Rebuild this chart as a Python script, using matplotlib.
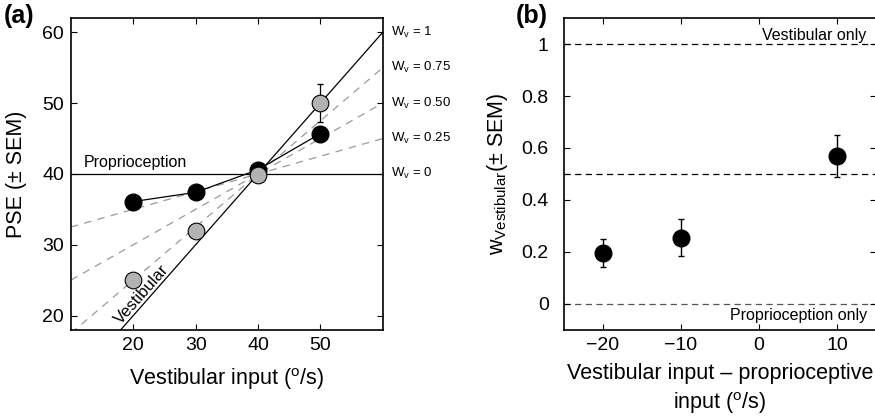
import matplotlib
matplotlib.use('Agg')
import matplotlib.pyplot as plt
import numpy as np

plt.rcParams['font.family'] = ['Liberation Sans', 'DejaVu Sans']
plt.rcParams['mathtext.fontset'] = 'custom'
plt.rcParams['mathtext.rm'] = 'Liberation Sans'
plt.rcParams['mathtext.it'] = 'Liberation Sans'

# ---- panel (a) data ----
vest_input = [20, 30, 40, 50]
pse_black = [36.1, 37.4, 40.6, 45.7]
pse_gray = [25.0, 31.9, 39.8, 50.0]
err_gray = [0.0, 0.0, 0.0, 2.7]
weights = [1, 0.75, 0.5, 0.25, 0]
weight_labels = ['1', '0.75', '0.50', '0.25', '0']

# ---- panel (b) data ----
diff_input = [-20, -10, 10]
w_vest = [0.195, 0.255, 0.57]
w_err = [0.053, 0.071, 0.08]
ref_levels = [0, 0.5, 1]

fig = plt.figure(figsize=(8.75, 4.17), dpi=100)

# ================= (a) =================
ax = fig.add_axes([0.0811, 0.2094, 0.3563, 0.747])
xs = np.array([10, 60])
for w in weights:
    ys = 40 + w * (xs - 40)
    if w in (0, 1):
        ax.plot(xs, ys, color='black', lw=0.9, zorder=2)
    else:
        ax.plot(xs, ys, color='#9a9a9a', lw=0.9, ls=(0, (6, 5)), zorder=1)

ax.plot(vest_input, pse_black, color='black', lw=0.9, zorder=3)
ax.plot(vest_input, pse_black, 'o', ms=12, mfc='black', mec='black', zorder=4)
ax.errorbar(vest_input[3:], pse_gray[3:], yerr=err_gray[3:], fmt='none',
            ecolor='black', elinewidth=0.9, capsize=2.5, zorder=4)
ax.plot(vest_input, pse_gray, 'o', ms=12, mfc='#b2b2b2', mec='black',
        mew=0.8, zorder=5)

ax.set_xlim(10, 60)
ax.set_ylim(18, 62)
ax.set_xticks([20, 30, 40, 50])
ax.set_yticks([20, 30, 40, 50, 60])
ax.tick_params(direction='in', top=True, right=True, length=4, width=0.8,
               labelsize=14)
ax.tick_params(axis='y', pad=5)
ax.tick_params(axis='x', pad=5)
for s in ax.spines.values():
    s.set_linewidth(1.2)
ax.set_xlabel('Vestibular input ($^{\\mathregular{o}}$/s)', fontsize=15.5,
              labelpad=9)
ax.set_ylabel('PSE (\u00b1 SEM)', fontsize=15.5, labelpad=11)

for w, lab in zip(weights, weight_labels):
    ax.text(61.3, 40 + w * 20, 'W$_\\mathregular{v}$ = ' + lab, fontsize=9.5,
            va='center', ha='left')
ax.text(12.0, 40.6, 'Proprioception', fontsize=11.5, va='bottom', ha='left')
ax.text(21.4, 23.0, 'Vestibular', fontsize=12, rotation=48.6,
        rotation_mode='anchor', ha='center', va='center')
fig.text(0.004, 0.962, '(a)', fontsize=18, fontweight='bold', va='center')

# ================= (b) =================
bx = fig.add_axes([0.6446, 0.2094, 0.3566, 0.747])
for lv in ref_levels:
    bx.axhline(lv, color='black' if lv else '#555555', lw=0.9,
               ls=(0, (5, 3.5)), zorder=1)
bx.errorbar(diff_input, w_vest, yerr=w_err, fmt='o', ms=12, mfc='black',
            mec='black', ecolor='black', elinewidth=1.0, capsize=2.5, zorder=3)
bx.set_xlim(-25, 15)
bx.set_ylim(-0.1, 1.1)
bx.set_xticks([-20, -10, 0, 10])
bx.set_xticklabels(['\u221220', '\u221210', '0', '10'])
bx.set_yticks([0, 0.2, 0.4, 0.6, 0.8, 1])
bx.set_yticklabels(['0', '0.2', '0.4', '0.6', '0.8', '1'])
bx.tick_params(direction='in', top=True, right=True, length=4, width=0.8,
               labelsize=14)
bx.tick_params(axis='y', pad=11)
bx.tick_params(axis='x', pad=5)
for s in bx.spines.values():
    s.set_linewidth(1.2)
bx.text(13.8, 1.035, 'Vestibular only', fontsize=11.5, ha='right', va='center')
bx.text(13.8, -0.045, 'Proprioception only', fontsize=11.5, ha='right',
        va='center')
bx.set_xlabel('Vestibular input \u2013 proprioceptive\ninput ($^{\\mathregular{o}}$/s)',
              fontsize=15.5, linespacing=1.3, labelpad=7)
bx.set_ylabel('w$_{\\mathregular{Vestibular}}$(\u00b1 SEM)', fontsize=15.5,
              labelpad=8)
fig.text(0.589, 0.962, '(b)', fontsize=18, fontweight='bold', va='center')

fig.savefig('out.png', dpi=100)
